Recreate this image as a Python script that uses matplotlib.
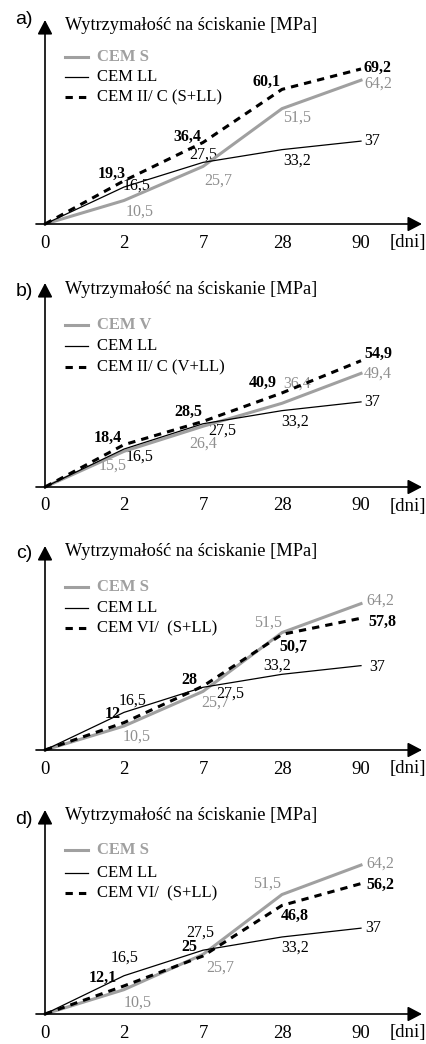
import matplotlib
matplotlib.use('Agg')
import matplotlib.pyplot as plt

# ---------------- data ----------------
days = ['0', '2', '7', '28', '90']
cem_s = [0, 10.5, 25.7, 51.5, 64.2]
cem_v = [0, 15.5, 26.4, 36.4, 49.4]
cem_ll = [0, 16.5, 27.5, 33.2, 37]
mix_a = [0, 19.3, 36.4, 60.1, 69.2]
mix_b = [0, 18.4, 28.5, 40.9, 54.9]
mix_c = [0, 12, 28, 50.7, 57.8]
mix_d = [0, 12.1, 25, 46.8, 56.2]
panel_letters = ['a)', 'b)', 'c)', 'd)']
y_title = 'Wytrzymałość na ściskanie [MPa]'
x_unit = '[dni]'
grey_names = ['CEM S', 'CEM V', 'CEM S', 'CEM S']
ll_name = 'CEM LL'
mix_names = ['CEM II/ C (S+LL)', 'CEM II/ C (V+LL)', 'CEM VI/  (S+LL)', 'CEM VI/  (S+LL)']

grey_series = [cem_s, cem_v, cem_s, cem_s]
mix_series = [mix_a, mix_b, mix_c, mix_d]

# ---------------- layout (pixels) ----------------
W, H = 427, 1044
X0 = 45          # pixel x of origin
DX = 79          # pixel spacing between categories
origins = [224, 487, 750, 1014]     # pixel y of origin per panel
scales = [2.24, 2.30, 2.28, 2.32]   # pixels per MPa per panel
label_dy = [204, 196, 196, 195]
legend_rows = [(167, 147, 127), (162, 141, 120), (163, 142, 122), (164, 141, 121)]

# label offsets in pixels (dx right, dy down) for [grey, ll, mix] at points 1..4
off_grey = [
    [(16, 11.5), (15, 14), (15, 9), (17, 3)],
    [(-11, 14), (0, 17), (15, -20), (17, 0)],
    [(13, 11), (12, 11), (-14, -10), (19, -3)],
    [(14, 13), (17, 13), (-15, -11), (19, -1)],
]
off_ll = [
    [(13, -1), (0, -8), (15, 11), (11, 0)],
    [(16, 8), (19, 7), (13, 11), (11, 0)],
    [(9, -12), (27, 6), (-5, -9), (16, 1)],
    [(1, -18), (-3, -18), (13, 11), (12, 0)],
]
off_mix = [
    [(-12, -7), (-16, -5.5), (-15, -8), (17, -1)],
    [(-16, -7), (-15, -10), (-19, -10), (17, -7)],
    [(-11, -9), (-14, -6), (11, 12), (21, 4)],
    [(-21, -8), (-14, -9), (13, 10), (19, 1)],
]

GREY = '#a0a0a0'
GREY_TXT = '#8f8f8f'
SERIF = ['Liberation Serif', 'DejaVu Serif']
VAL_FS = 11.5

fig = plt.figure(figsize=(W / 100, H / 100), dpi=100)
fig.patch.set_facecolor('white')


def fmt(v):
    return ('%g' % v).replace('.', ',')


for p in range(4):
    oy = origins[p]
    sc = scales[p]
    ax = fig.add_axes([X0 / W, (H - oy) / H, 4 * DX / W, 80 * sc / H])
    ax.set_xlim(0, 4)
    ax.set_ylim(0, 80)
    ax.axis('off')
    xs = list(range(len(days)))

    # axes arrows
    ap = dict(arrowstyle='-|>,head_length=0.86,head_width=0.45', color='black',
              lw=1.2, shrinkA=0, shrinkB=0, mutation_scale=10)
    ax.annotate('', xy=(0, 204 / sc), xytext=(0, -1 / sc), arrowprops=ap,
                annotation_clip=False)
    ax.annotate('', xy=((422 - X0) / DX, 0), xytext=(-9 / DX, 0), arrowprops=ap,
                annotation_clip=False)

    # series
    g = grey_series[p]
    m = mix_series[p]
    ax.plot(xs, cem_ll, color='black', lw=0.9, clip_on=False, zorder=3)
    ax.plot(xs, g, color=GREY, lw=2.2, clip_on=False, zorder=2)
    ax.plot(xs, m, color='black', lw=2.2, dashes=(2.4, 2.0), clip_on=False, zorder=4)

    # value labels
    for i in range(1, 5):
        dx, dy = off_grey[p][i - 1]
        ax.annotate(fmt(g[i]), xy=(i, g[i]), xytext=(dx * 0.72, -dy * 0.72),
                    textcoords='offset points', ha='center', va='center',
                    fontsize=VAL_FS, family=SERIF, color=GREY_TXT, zorder=1)
        dx, dy = off_ll[p][i - 1]
        ax.annotate(fmt(cem_ll[i]), xy=(i, cem_ll[i]), xytext=(dx * 0.72, -dy * 0.72),
                    textcoords='offset points', ha='center', va='center',
                    fontsize=VAL_FS, family=SERIF, color='black', zorder=1)
        dx, dy = off_mix[p][i - 1]
        ax.annotate(fmt(m[i]), xy=(i, m[i]), xytext=(dx * 0.72, -dy * 0.72),
                    textcoords='offset points', ha='center', va='center',
                    fontsize=VAL_FS, family=SERIF, color='black', fontweight='bold',
                    zorder=1)

    # tick labels
    for i, d in enumerate(days):
        ax.text(i, -19 / sc, d, ha='center', va='center', fontsize=13.5,
                family=SERIF, clip_on=False)
    ax.text((408 - X0) / DX, -19 / sc, x_unit, ha='center', va='center',
            fontsize=13.5, family=SERIF, clip_on=False)

    # title and panel letter
    ax.text((65 - X0) / DX, 198 / sc, y_title, ha='left', va='center',
            fontsize=13.2, family=SERIF, clip_on=False)
    ax.text((24 - X0) / DX, label_dy[p] / sc, panel_letters[p], ha='center',
            va='center', fontsize=14, family=['Liberation Sans', 'DejaVu Sans'],
            clip_on=False)

    # legend (manual)
    lx0, lx1, tx = (65 - X0) / DX, (88 - X0) / DX, (97 - X0) / DX
    r = legend_rows[p]
    ax.plot([lx0, lx1], [r[0] / sc] * 2, color=GREY, lw=2.2, clip_on=False)
    ax.text(tx, r[0] / sc, grey_names[p], ha='left', va='center', fontsize=12,
            family=SERIF, color=GREY, fontweight='bold', clip_on=False)
    ax.plot([lx0, lx1], [r[1] / sc] * 2, color='black', lw=0.9, clip_on=False)
    ax.text(tx, r[1] / sc, ll_name, ha='left', va='center', fontsize=12,
            family=SERIF, color='black', clip_on=False)
    ax.plot([lx0, lx1], [r[2] / sc] * 2, color='black', lw=2.2, dashes=(2.4, 2.0),
            clip_on=False)
    ax.text(tx, r[2] / sc, mix_names[p], ha='left', va='center', fontsize=12,
            family=SERIF, color='black', clip_on=False)

fig.savefig('out.png', dpi=100, facecolor='white')
